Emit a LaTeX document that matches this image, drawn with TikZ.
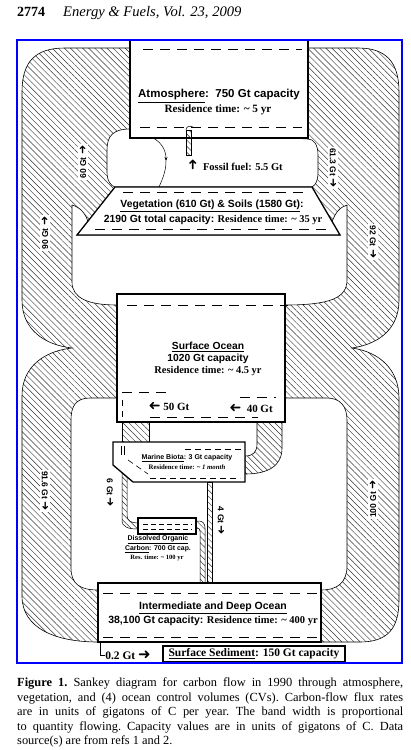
\documentclass[tikz,border=0pt]{standalone}
\usepackage{amsmath,amssymb}
\usepackage{fontspec}
\setmainfont{Liberation Serif}
\setsansfont{Liberation Sans}
\newfontfamily\arrowfont{DejaVu Sans}
\newcommand{\rarr}{{\arrowfont\scalebox{1.3}{➜}}}
\newcommand{\larr}{{\arrowfont\scalebox{-1.3}[1.3]{➜}}}
\newcommand{\uarr}{{\arrowfont\rotatebox{90}{\scalebox{1.3}{➜}}}}
\usepackage{tikz}
\usetikzlibrary{arrows.meta,positioning,patterns.meta}

\begin{document}
\begin{tikzpicture}[x=1pt,y=-1pt,
  band/.style={pattern={Lines[angle=-45,distance=4.3pt,line width=0.45pt]},pattern color=black!80},
  rim/.style={line width=0.6pt},
  cv/.style={draw,line width=1.3pt,fill=white},
  dashrow/.style={dash pattern=on 10pt off 7pt,line width=0.8pt},
  gtlab/.style={font=\sffamily\bfseries\fontsize{8.5}{9}\selectfont,fill=white,inner sep=1.5pt},
  sanstitle/.style={font=\sffamily\bfseries\fontsize{#1}{#1}\selectfont,inner sep=0pt},
  seriftext/.style={font=\bfseries\fontsize{#1}{#1}\selectfont,inner sep=0pt}]
  \useasboundingbox (0,0) rectangle (411,750);
  \fill[white] (0,0) rectangle (411,750);

  % hatched figure-eight of the big fluxes
  \path[band,draw,rim] (130,48) -- (65,48) .. controls (35,48) and (22,62) .. (22,92) -- (22,300)
    .. controls (22,330) and (45,345) .. (72,348) .. controls (45,351) and (22,366) .. (22,396)
    -- (22,596) .. controls (22,628) and (55,642) .. (98,642) -- (321,642) -- (360,642)
    .. controls (388,642) and (399,628) .. (399,600) -- (399,398)
    .. controls (399,370) and (380,352) .. (352,348) .. controls (380,344) and (399,328) .. (399,300)
    -- (399,92) .. controls (399,62) and (386,48) .. (358,48) -- (308,48) -- cycle;
  % open space between vegetation and surface ocean
  \path[fill=white,draw,rim] (72,205) .. controls (80,207) and (86,214) .. (88,222) -- (77,235)
    -- (340,235) -- (332,222) .. controls (335,213) and (340,207) .. (347,205) -- (347,280)
    .. controls (347,298) and (330,305) .. (285,305) -- (285,294) -- (117,294) -- (117,305)
    .. controls (88,305) and (72,298) .. (72,282) -- cycle;
  % open space between surface ocean and deep ocean
  \path[fill=white,draw,rim] (117,398) -- (90,398) .. controls (76,398) and (71,406) .. (71,420)
    -- (71,568) .. controls (71,584) and (80,590) .. (98,590) -- (98,583) -- (321,583) -- (321,590)
    .. controls (338,590) and (347,582) .. (347,566) -- (347,420)
    .. controls (347,406) and (340,398) .. (327,398) -- (285,398) -- (285,422) -- (117,422) -- cycle;
  % open space between atmosphere and vegetation
  \path[fill=white,draw,rim] (130,129) .. controls (113,129) and (107,136) .. (107,150) -- (107,172)
    .. controls (107,181) and (111,186) .. (115,187) -- (312,187) .. controls (316,185) and (318,180) .. (318,172)
    -- (318,155) .. controls (318,145) and (314,139) .. (308,139) -- cycle;

  % ocean biology bands
  \path[band,draw,rim] (122,422) rectangle (149,442);
  \path[band,draw,rim] (257,422) -- (257,444) .. controls (257,452) and (253,456) .. (245,456)
    -- (245,474) .. controls (268,474) and (282,466) .. (282,448) -- (282,422) -- cycle;
  \path[band,draw,line width=0.5pt] (122,473) -- (122,520) .. controls (122,527) and (128,529) .. (138,529)
    -- (138,523) .. controls (131,523) and (127,521) .. (127,515) -- (127,477) -- cycle;
  \path[band,draw,line width=0.5pt] (196,521) -- (199,521) .. controls (203,521) and (205,524) .. (205,528)
    -- (205,583) -- (200,583) -- (200,531) .. controls (200,529) and (199,528) .. (196,528) -- cycle;
  \path[band,draw,line width=0.5pt] (207,482) rectangle (212,583);

  % control volumes
  \path[cv] (130,40) -- (130,138) -- (308,138) -- (308,40);
  \path[cv] (115,187) -- (312,187) -- (340,235) -- (77,235) -- cycle;
  \path[cv] (117,294) rectangle (285,422);
  \path[cv] (113,442) -- (245,442) -- (245,482) -- (133,482) -- (113,465) -- cycle;
  \path[cv,line width=1.1pt] (138,518) rectangle (196,534);
  \path[cv] (98,583) rectangle (321,642);

  % fossil fuel and net land uptake
  \path[band,draw,line width=0.5pt] (186,130) rectangle (191,155);
  \draw[line width=0.5pt] (186,130) .. controls (186,127) and (189,125) .. (193,127);
  \draw[line width=0.5pt,-{Stealth[length=4pt]}] (153,138) .. controls (161,142) and (166,150) .. (166,161);
  \draw[line width=0.5pt] (166,161) .. controls (166,172) and (162,180) .. (159,187);

  % mixed-layer dashes
  \draw[dashrow] (143,49) -- (302,49);
  \draw[dashrow] (140,127) -- (302,127);
  \draw[dashrow] (123,192) -- (305,192);
  \draw[dashrow] (95,229) -- (330,229);
  \draw[dashrow] (127,305) -- (288,305);
  \draw[dashrow] (122,392) -- (172,392);
  \draw[dashrow] (240,397) -- (276,397);
  \draw[dashrow] (150,417) -- (258,417);
  \draw[dashrow,dash pattern=on 6pt off 5pt] (122,400) -- (122,418);
  \draw[dashrow] (103,593) -- (318,593);
  \draw[dashrow] (103,637) -- (318,637);
  \draw[line width=0.6pt,dash pattern=on 6pt off 4pt] (185,449) -- (243,449);
  \draw[line width=0.6pt,dash pattern=on 6pt off 4pt] (128,460) -- (148,474);
  \draw[line width=0.6pt,dash pattern=on 6pt off 4pt] (150,478) -- (240,478);
  \draw[line width=0.6pt] (121,446) -- (121,455) (124,446) -- (124,455);
  \draw[line width=0.6pt,dash pattern=on 5pt off 3pt] (143,524) -- (192,524) (143,529) -- (192,529);

  % texts of the control volumes
  \node[sanstitle=11.5] (atmos) at (219,96) {\underline{Atmosphere}:\ \ 750 Gt capacity};
  \node[seriftext=11.2] (atmosres) at (218,110) {Residence time: \textasciitilde\ 5 yr};
  \node[seriftext=10.5] (fossil) at (236,165) {\uarr\hspace{6pt}Fossil fuel: 5.5 Gt};
  \node[sanstitle=10.4] (veg) at (212,206) {\underline{Vegetation (610 Gt) \& Soils (1580 Gt)}:};
  \node[seriftext=10.4] (vegres) at (213,220) {{\sffamily 2190 Gt total capacity:} Residence time: \textasciitilde\ 35 yr};
  \node[sanstitle=10.3] (surf) at (208,347) {\underline{Surface Ocean}};
  \node[sanstitle=10.3] (surfcap) at (208,359) {1020 Gt capacity};
  \node[seriftext=10.4] (surfres) at (208,371) {Residence time: \textasciitilde\ 4.5 yr};
  \node[seriftext=11] (f50) at (169,406) {\larr\ 50 Gt};
  \node[seriftext=11] (f40) at (251,408) {\larr\ \ 40 Gt};
  \node[sanstitle=7] (biota) at (187,458) {\underline{Marine Biota}: 3 Gt capacity};
  \node[seriftext=6.8] (biotares) at (187,467) {Residence time: \textasciitilde\ \textit{1 month}};
  \node[sanstitle=6.9] (doc1) at (158,540) {\underline{Dissolved Organic}};
  \node[sanstitle=6.9] (doc2) at (158,549) {\underline{Carbon}: 700 Gt cap.};
  \node[seriftext=6.5] (doc3) at (157,558) {Res. time: \textasciitilde\ 100 yr};
  \node[sanstitle=10.5] (deep) at (213,608) {\underline{Intermediate and Deep Ocean}};
  \node[seriftext=10.5] (deepres) at (213,621) {{\sffamily 38,100 Gt capacity:} Residence time: \textasciitilde\ 400 yr};
  \node[seriftext=11.5,draw,line width=1.1pt,fill=white,minimum width=182pt,minimum height=16pt] (sed) at (254,654)
    {\underline{Surface Sediment}: 150 Gt capacity};
  \node[seriftext=11.5] (f02) at (128,655) {0.2 Gt \rarr};
  \coordinate (deepsw) at (100,642);
  \draw[rim] (deepsw) |- (f02.west);

  % flux labels on the bands
  \node[gtlab,rotate=90] (l60) at (83,162) {60 Gt \rarr};
  \node[gtlab,rotate=-90] (l613) at (333,168) {61.3 Gt \rarr};
  \node[gtlab,rotate=90] (l90) at (45,233) {90 Gt \rarr};
  \node[gtlab,rotate=-90] (l92) at (373,242) {92 Gt \rarr};
  \node[gtlab,rotate=-90] (l916) at (45,491) {91.6 Gt \rarr};
  \node[gtlab,rotate=90] (l100) at (373,499) {100 Gt \rarr};
  \node[gtlab,rotate=-90] (l6) at (110,493) {6 Gt \rarr};
  \node[gtlab,rotate=-90] (l4) at (221,521) {4 Gt \rarr};

  % page frame, running head and caption
  \draw[blue,line width=2.6pt] (17,40) rectangle (402,663);
  \node[anchor=base west,inner sep=0pt,font=\bfseries\fontsize{14}{14}\selectfont] (pageno) at (17,16) {2774};
  \node[anchor=base west,inner sep=0pt,font=\itshape\fontsize{14.6}{14.6}\selectfont] (journal) at (63,16) {Energy \& Fuels, Vol. 23, 2009};
  \node[anchor=north west,inner sep=0pt,text width=386pt,align=justify,font=\fontsize{12.4}{14.5}\selectfont] (caption) at (17,678)
    {\noindent\frenchspacing\textbf{Figure 1.} Sankey diagram for carbon flow in 1990 through atmosphere,\linebreak
     vegetation, and (4) ocean control volumes (CVs). Carbon-flow flux rates\linebreak
     are in units of gigatons of C per year. The band width is proportional\linebreak
     to quantity flowing. Capacity values are in units of gigatons of C. Data\linebreak
     source(s) are from refs 1 and 2.};
\end{tikzpicture}
\end{document}
